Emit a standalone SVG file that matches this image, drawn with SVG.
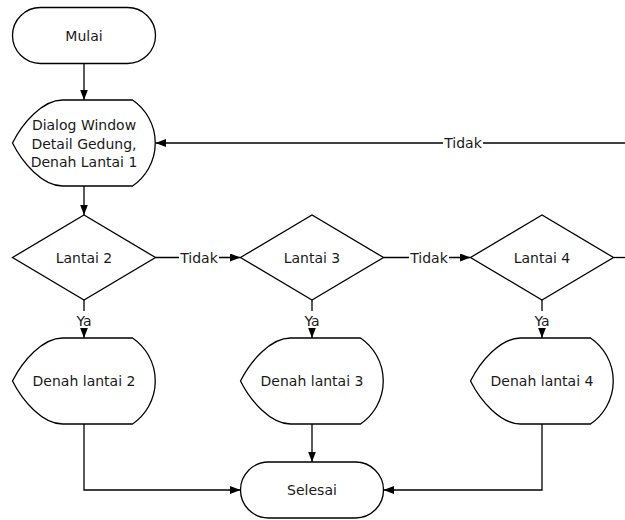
<svg xmlns="http://www.w3.org/2000/svg" width="625" height="520" viewBox="0 0 625 520">
<defs>
<marker id="arr" markerWidth="11" markerHeight="9" refX="10.5" refY="4" orient="auto" markerUnits="userSpaceOnUse">
<path d="M0,0 L10.5,4 L0,8 Z" fill="#000"/>
</marker>
<style>
.s{fill:#fff;stroke:#000;stroke-width:1.3}
.t{font-family:"DejaVu Sans",Verdana,sans-serif;font-size:14px;fill:#1a1a1a;text-anchor:middle}
.c{fill:none;stroke:#000;stroke-width:1.3}
.bg{fill:#fff}
</style>
</defs>
<rect width="625" height="520" fill="#fff"/>

<g id="connectors">
<line class="c" x1="84" y1="63.5" x2="84" y2="100" marker-end="url(#arr)"/>
<line class="c" x1="84" y1="186" x2="84" y2="215" marker-end="url(#arr)"/>
<line class="c" x1="625" y1="143" x2="155.5" y2="143" marker-end="url(#arr)"/>
<rect class="bg" x="443" y="134" width="40" height="18"/>
<text class="t" x="463" y="148">Tidak</text>
<line class="c" x1="155.5" y1="257.5" x2="240.5" y2="257.5" marker-end="url(#arr)"/>
<rect class="bg" x="179" y="249" width="40" height="18"/>
<text class="t" x="199" y="262.5">Tidak</text>
<line class="c" x1="383.5" y1="257.5" x2="470.5" y2="257.5" marker-end="url(#arr)"/>
<rect class="bg" x="409" y="249" width="40" height="18"/>
<text class="t" x="429" y="262.5">Tidak</text>
<line class="c" x1="613.5" y1="257.5" x2="625" y2="257.5"/>
<line class="c" x1="84" y1="300" x2="84" y2="338" marker-end="url(#arr)"/>
<line class="c" x1="312" y1="300" x2="312" y2="338" marker-end="url(#arr)"/>
<line class="c" x1="542" y1="300" x2="542" y2="338" marker-end="url(#arr)"/>
<rect class="bg" x="74" y="311" width="20" height="17"/>
<rect class="bg" x="302" y="311" width="20" height="17"/>
<rect class="bg" x="532" y="311" width="20" height="17"/>
<text class="t" x="84" y="325.5">Ya</text>
<text class="t" x="312" y="325.5">Ya</text>
<text class="t" x="542" y="325.5">Ya</text>
<polyline class="c" points="84,424 84,490 240.5,490" marker-end="url(#arr)"/>
<line class="c" x1="312" y1="424" x2="312" y2="462" marker-end="url(#arr)"/>
<polyline class="c" points="542,424 542,490 383.5,490" marker-end="url(#arr)"/>
</g>

<g id="mulai">
<rect class="s" x="12.5" y="7.5" width="143" height="56" rx="28" ry="28"/>
<text class="t" x="84" y="40.5">Mulai</text>
</g>

<g id="dialog">
<path class="s" d="M12.5,143 C22.5,123 42.5,100 62.5,100 L132.5,100 A52 52 0 0 1 132.5,186 L62.5,186 C42.5,186 22.5,163 12.5,143 Z"/>
<text class="t" x="84" y="130">Dialog Window</text>
<text class="t" x="84" y="148.5">Detail Gedung,</text>
<text class="t" x="84" y="167">Denah Lantai 1</text>
</g>

<g id="lantai2">
<polygon class="s" points="12.5,257.5 84,215 155.5,257.5 84,300"/>
<text class="t" x="84" y="262.5">Lantai 2</text>
</g>
<g id="lantai3">
<polygon class="s" points="240.5,257.5 312,215 383.5,257.5 312,300"/>
<text class="t" x="312" y="262.5">Lantai 3</text>
</g>
<g id="lantai4">
<polygon class="s" points="470.5,257.5 542,215 613.5,257.5 542,300"/>
<text class="t" x="542" y="262.5">Lantai 4</text>
</g>

<g id="denah2">
<path class="s" d="M12.5,381 C22.5,361 42.5,338 62.5,338 L132.5,338 A52 52 0 0 1 132.5,424 L62.5,424 C42.5,424 22.5,401 12.5,381 Z"/>
<text class="t" x="84" y="386">Denah lantai 2</text>
</g>
<g id="denah3">
<path class="s" d="M240.5,381 C250.5,361 270.5,338 290.5,338 L360.5,338 A52 52 0 0 1 360.5,424 L290.5,424 C270.5,424 250.5,401 240.5,381 Z"/>
<text class="t" x="312" y="386">Denah lantai 3</text>
</g>
<g id="denah4">
<path class="s" d="M470.5,381 C480.5,361 500.5,338 520.5,338 L590.5,338 A52 52 0 0 1 590.5,424 L520.5,424 C500.5,424 480.5,401 470.5,381 Z"/>
<text class="t" x="542" y="386">Denah lantai 4</text>
</g>

<g id="selesai">
<rect class="s" x="240.5" y="462" width="143" height="56" rx="28" ry="28"/>
<text class="t" x="312" y="495">Selesai</text>
</g>
</svg>
